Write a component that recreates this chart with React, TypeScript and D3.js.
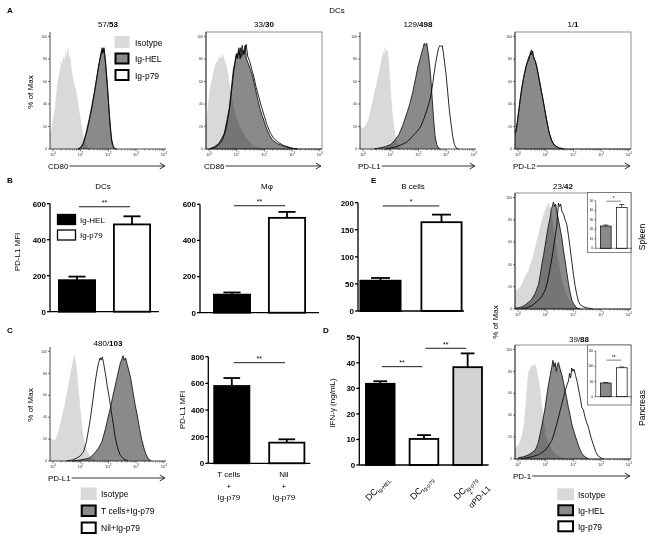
import React from "react";
import * as d3 from "d3";

type Pt = [number, number];

// ---------------- DATA ----------------
// Histograms: [log10 fluorescence, % of max]
const aTitleFirst = ["57/", "33/", "129/", "1/"];
const aTitleSecond = ["53", "30", "498", "1"];
const aMarkers = ["CD80", "CD86", "PD-L1", "PD-L2"];
const histLegend = ["Isotype", "Ig-HEL", "Ig-p79"];
const cLegend = ["Isotype", "T cells+Ig-p79", "Nil+Ig-p79"];
const histYTicks = [0, 20, 40, 60, 80, 100];
const histDecades = [0, 1, 2, 3, 4];

const cd80Iso: Pt[] = [[-0.11, 13], [-0.05, 18], [0.0, 25], [0.07, 36], [0.15, 55], [0.22, 66], [0.27, 72], [0.3, 78], [0.34, 74], [0.38, 82], [0.42, 76], [0.46, 86], [0.5, 80], [0.54, 90], [0.58, 78], [0.62, 82], [0.66, 70], [0.72, 62], [0.8, 54], [0.86, 48], [0.95, 32], [1.03, 20], [1.1, 10], [1.16, 5], [1.25, 1], [1.35, 0]];
const cd80Hel: Pt[] = [[0.9, 0], [1.0, 1], [1.1, 5], [1.2, 13], [1.3, 24], [1.4, 36], [1.5, 50], [1.58, 63], [1.65, 74], [1.72, 84], [1.76, 88], [1.8, 85], [1.83, 89], [1.86, 84], [1.9, 76], [1.95, 60], [2.0, 42], [2.05, 24], [2.1, 10], [2.15, 3], [2.22, 0.5], [2.3, 0]];
const cd80P79: Pt[] = [[0.9, 0], [1.0, 1.5], [1.1, 6], [1.2, 15], [1.3, 26], [1.4, 38], [1.5, 52], [1.58, 64], [1.66, 76], [1.72, 82], [1.77, 90], [1.8, 86], [1.84, 90], [1.88, 82], [1.92, 70], [1.97, 54], [2.02, 36], [2.07, 20], [2.12, 8], [2.18, 2], [2.25, 0]];

const cd86Iso: Pt[] = [[-0.11, 20], [-0.05, 34], [0.0, 46], [0.07, 58], [0.14, 65], [0.2, 72], [0.26, 77], [0.32, 78], [0.38, 82], [0.44, 80], [0.49, 84], [0.54, 80], [0.6, 76], [0.67, 68], [0.73, 58], [0.79, 50], [0.88, 38], [0.97, 29], [1.1, 20], [1.21, 15], [1.33, 10], [1.45, 6], [1.6, 3], [1.8, 1], [2.0, 0]];
const cd86Hel: Pt[] = [[0.0, 0], [0.2, 2], [0.35, 5], [0.45, 9], [0.55, 14], [0.65, 26], [0.73, 36], [0.8, 52], [0.88, 71], [0.94, 78], [0.98, 84], [1.02, 80], [1.06, 88], [1.1, 84], [1.14, 90], [1.18, 82], [1.22, 88], [1.26, 84], [1.3, 92], [1.35, 80], [1.42, 76], [1.5, 70], [1.57, 65], [1.65, 56], [1.75, 45], [1.85, 35], [1.93, 29], [2.05, 20], [2.17, 13], [2.29, 8], [2.45, 5], [2.65, 3], [2.85, 1.5], [3.0, 0.5], [3.2, 0]];
const cd86P79: Pt[] = [[0.05, 0], [0.25, 2], [0.4, 5], [0.5, 9], [0.6, 16], [0.68, 27], [0.76, 40], [0.83, 55], [0.9, 70], [0.96, 80], [1.0, 85], [1.04, 82], [1.08, 90], [1.12, 80], [1.16, 86], [1.2, 92], [1.25, 84], [1.3, 88], [1.34, 93], [1.4, 82], [1.47, 78], [1.55, 70], [1.62, 64], [1.7, 55], [1.8, 46], [1.9, 37], [2.0, 29], [2.1, 21], [2.22, 14], [2.35, 9], [2.5, 6], [2.7, 3], [2.9, 1.5], [3.05, 0.5], [3.2, 0]];

const pdl1Iso: Pt[] = [[-0.11, 20], [0.0, 18], [0.1, 21], [0.2, 26], [0.3, 37], [0.4, 48], [0.5, 59], [0.6, 70], [0.68, 80], [0.74, 86], [0.78, 84], [0.8, 90], [0.84, 86], [0.88, 88], [0.92, 78], [0.96, 65], [1.0, 50], [1.04, 36], [1.1, 22], [1.16, 12], [1.22, 6], [1.3, 2], [1.4, 0]];
const pdl1Hel: Pt[] = [[0.4, 0], [0.6, 1], [0.8, 2], [1.0, 4], [1.15, 8], [1.3, 13], [1.45, 22], [1.6, 33], [1.7, 41], [1.8, 51], [1.9, 63], [1.99, 74], [2.06, 80], [2.12, 86], [2.17, 90], [2.21, 94], [2.25, 92], [2.3, 94], [2.35, 86], [2.4, 76], [2.45, 62], [2.5, 44], [2.55, 26], [2.6, 12], [2.66, 4], [2.72, 1], [2.8, 0]];
const pdl1P79: Pt[] = [[0.8, 0], [1.0, 1], [1.2, 2], [1.4, 4], [1.57, 6], [1.7, 9], [1.85, 13], [2.0, 17], [2.1, 21], [2.2, 27], [2.3, 34], [2.42, 44], [2.5, 55], [2.56, 66], [2.62, 76], [2.68, 84], [2.73, 90], [2.78, 92], [2.82, 91], [2.86, 92], [2.9, 86], [2.95, 76], [3.0, 66], [3.06, 50], [3.12, 34], [3.18, 22], [3.24, 11], [3.3, 4], [3.36, 1], [3.45, 0]];

const pdl2Hel: Pt[] = [[-0.11, 13], [-0.06, 16], [-0.02, 24], [0.03, 34], [0.1, 48], [0.16, 57], [0.21, 64], [0.28, 72], [0.34, 78], [0.39, 82], [0.44, 84], [0.48, 88], [0.52, 84], [0.56, 82], [0.62, 78], [0.68, 73], [0.75, 64], [0.81, 56], [0.86, 49], [0.95, 37], [1.04, 25], [1.12, 15], [1.21, 8], [1.3, 4], [1.45, 1], [1.6, 0]];
const pdl2P79: Pt[] = [[-0.11, 15], [-0.06, 19], [-0.02, 26], [0.04, 37], [0.1, 49], [0.16, 58], [0.22, 66], [0.28, 73], [0.34, 77], [0.4, 80], [0.45, 86], [0.49, 84], [0.53, 87], [0.58, 80], [0.63, 78], [0.69, 71], [0.76, 62], [0.82, 54], [0.88, 47], [0.96, 36], [1.05, 23], [1.13, 14], [1.22, 7], [1.32, 3], [1.5, 1], [1.7, 0]];

// Panel C histogram
const cIso: Pt[] = [[-0.11, 21], [-0.05, 20], [0.03, 18], [0.1, 20], [0.2, 27], [0.3, 37], [0.4, 48], [0.5, 61], [0.58, 72], [0.65, 82], [0.7, 88], [0.74, 93], [0.77, 96], [0.8, 92], [0.84, 85], [0.88, 76], [0.92, 64], [0.96, 52], [1.02, 37], [1.08, 24], [1.15, 15], [1.23, 9], [1.32, 5], [1.42, 2], [1.55, 0]];
const cTcells: Pt[] = [[0.7, 0], [1.0, 1], [1.2, 2], [1.33, 3], [1.5, 7], [1.65, 12], [1.77, 18], [1.9, 30], [2.0, 41], [2.07, 48], [2.15, 58], [2.23, 67], [2.31, 76], [2.38, 84], [2.44, 90], [2.49, 93], [2.53, 96], [2.57, 92], [2.62, 94], [2.68, 88], [2.74, 82], [2.8, 76], [2.88, 64], [2.96, 52], [3.04, 42], [3.12, 30], [3.2, 20], [3.28, 12], [3.36, 6], [3.44, 2], [3.55, 0]];
const cNil: Pt[] = [[0.5, 0], [0.7, 1], [0.88, 3], [1.0, 5], [1.11, 9], [1.2, 17], [1.28, 28], [1.35, 39], [1.44, 56], [1.53, 73], [1.6, 84], [1.65, 90], [1.7, 94], [1.74, 92], [1.78, 95], [1.82, 90], [1.89, 80], [1.96, 68], [2.03, 58], [2.1, 46], [2.18, 33], [2.25, 21], [2.33, 12], [2.43, 5], [2.55, 2], [2.7, 0]];

// Panel E histograms (PD-1)
const eTitleFirst = ["23/", "39/"];
const eTitleSecond = ["42", "88"];
const eTissues = ["Spleen", "Pancreas"];
const spleenIso: Pt[] = [[-0.11, 16], [0.0, 18], [0.1, 20], [0.2, 25], [0.3, 31], [0.38, 34], [0.45, 40], [0.52, 45], [0.6, 53], [0.68, 61], [0.75, 68], [0.82, 75], [0.9, 82], [0.98, 88], [1.04, 92], [1.1, 95], [1.16, 90], [1.22, 82], [1.28, 72], [1.34, 61], [1.42, 47], [1.52, 34], [1.6, 24], [1.7, 16], [1.82, 9], [1.94, 5], [2.1, 2], [2.25, 0]];
const spleenHel: Pt[] = [[-0.11, 1], [0.0, 1], [0.15, 2], [0.28, 4], [0.38, 6], [0.5, 9], [0.62, 14], [0.74, 22], [0.8, 30], [0.86, 40], [0.92, 48], [0.98, 57], [1.05, 68], [1.1, 75], [1.16, 82], [1.2, 90], [1.24, 92], [1.28, 96], [1.32, 92], [1.36, 94], [1.4, 87], [1.46, 80], [1.52, 72], [1.58, 64], [1.64, 53], [1.7, 43], [1.76, 33], [1.82, 23], [1.88, 15], [1.94, 8], [2.02, 4], [2.12, 1], [2.25, 0]];
const spleenP79: Pt[] = [[0.1, 0], [0.3, 1], [0.5, 3], [0.7, 7], [0.85, 11], [0.98, 17], [1.06, 24], [1.14, 34], [1.22, 45], [1.3, 58], [1.36, 68], [1.4, 74], [1.43, 86], [1.46, 95], [1.5, 92], [1.54, 94], [1.58, 88], [1.64, 85], [1.7, 80], [1.76, 76], [1.82, 66], [1.88, 55], [1.94, 43], [2.0, 31], [2.06, 21], [2.12, 13], [2.18, 7], [2.24, 4], [2.35, 2], [2.5, 1], [2.7, 0]];
const pancIso: Pt[] = [[-0.11, 10], [0.0, 12], [0.08, 16], [0.14, 21], [0.2, 28], [0.25, 40], [0.29, 52], [0.33, 65], [0.36, 76], [0.4, 80], [0.45, 82], [0.5, 86], [0.55, 83], [0.6, 87], [0.64, 84], [0.68, 80], [0.74, 72], [0.8, 62], [0.85, 50], [0.89, 41], [0.94, 31], [0.98, 23], [1.06, 16], [1.16, 11], [1.26, 7], [1.36, 4], [1.5, 2], [1.65, 0]];
const pancHel: Pt[] = [[0.0, 1], [0.2, 2], [0.4, 4], [0.62, 8], [0.72, 14], [0.8, 23], [0.88, 33], [0.98, 47], [1.04, 58], [1.1, 68], [1.16, 76], [1.22, 84], [1.26, 90], [1.3, 84], [1.34, 88], [1.38, 80], [1.42, 86], [1.46, 88], [1.52, 82], [1.58, 77], [1.64, 70], [1.7, 62], [1.76, 55], [1.82, 47], [1.88, 40], [1.94, 32], [2.03, 24], [2.12, 17], [2.2, 11], [2.3, 5], [2.42, 2], [2.55, 0]];
const pancP79: Pt[] = [[0.1, 0], [0.3, 1], [0.5, 2], [0.75, 4], [0.98, 8], [1.1, 12], [1.22, 17], [1.3, 23], [1.4, 32], [1.5, 42], [1.58, 50], [1.64, 56], [1.7, 62], [1.76, 67], [1.82, 71], [1.86, 78], [1.9, 74], [1.94, 83], [1.98, 80], [2.02, 82], [2.08, 76], [2.14, 70], [2.2, 62], [2.26, 54], [2.3, 47], [2.36, 45], [2.42, 38], [2.48, 33], [2.54, 29], [2.62, 21], [2.72, 13], [2.8, 7], [2.88, 3], [3.0, 1], [3.1, 0]];

// Bar charts: means, SEM, significance level (data units)
const groupsHelP79 = ["Ig-HEL", "Ig-p79"];
const bTitles = ["DCs", "Mφ", "B cells"];
const bDcMean = [175, 485];
const bDcSem = [20, 45];
const bDcSig = [583];
const bMacMean = [100, 525];
const bMacSem = [12, 33];
const bMacSig = [592];
const bBMean = [56, 164];
const bBSem = [5, 14];
const bBSig = [194];
const b600Ticks = [0, 200, 400, 600];
const b200Ticks = [0, 50, 100, 150, 200];

const cBarLabels = [["T cells", "+", "Ig-p79"], ["Nil", "+", "Ig-p79"]];
const cBarMean = [580, 155];
const cBarSem = [60, 25];
const cBarSig = [755];
const cBarTicks = [0, 200, 400, 600, 800];

const dLabelMain = ["DC", "DC", "DC"];
const dLabelSub = ["Ig-HEL", "Ig-p79", "Ig-p79"];
const dLabelExtra = [[], [], ["+", "αPD-L1"]];
const dMean = [31.8, 10.2, 38.3];
const dSem = [1.0, 1.5, 5.4];
const dSig = [38.5, 45.7]; // 0-1, 1-2
const dTicks = [0, 10, 20, 30, 40, 50];

const eInsetMean = [[23.4, 43], [45, 95]];
const eInsetSem = [[1.0, 3.0], [1.5, 2.5]];
const eInsetSig = [49.5, 120];
const eInsetSigLabel = ["*", "**"];
const eInsetTicks = [[0, 10, 20, 30, 40, 50], [0, 50, 100, 150]];
const eInsetMax = [50, 150];

// ---------------- STYLE ----------------
const FF = "Arial, 'Liberation Sans', Helvetica, sans-serif";
const ISO_FILL = "#d9d9d9";
const HEL_FILL = "#8a8a8a";

let measureCtx: CanvasRenderingContext2D | null = null;
function textW(s: string, size: number, weight = "normal") {
  if (!measureCtx) measureCtx = document.createElement("canvas").getContext("2d");
  if (!measureCtx) return s.length * size * 0.55;
  measureCtx.font = `${weight} ${size}px ${FF}`;
  return measureCtx.measureText(s).width;
}

type Curves = { iso?: Pt[]; hel?: Pt[]; p79?: Pt[] };

function Hist(props: {
  x0: number; y0: number; y1: number; curves: Curves; box: boolean; marker: string;
  title: [string, string]; titleX?: number; titleY: number;
}) {
  const { x0, y0, y1, curves, box, marker, title } = props;
  const x1 = x0 + 116;
  const xs = d3.scaleLinear().domain([-0.11, 4.08]).range([x0, x1]);
  const ys = d3.scaleLinear().domain([0, 104]).range([y1, y0]);
  const area = d3.area<Pt>().x((d) => xs(d[0])).y0(ys(0)).y1((d) => ys(d[1]));
  const line = d3.line<Pt>().x((d) => xs(d[0])).y((d) => ys(d[1]));
  const minor: number[] = [];
  for (let k = 0; k < 4; k++) for (let m = 2; m <= 9; m++) minor.push(k + Math.log10(m));
  const lw = textW(marker, 8);
  const ay = y1 + 17;
  const aEnd = xs(4) + 1;
  const tx = props.titleX ?? (x0 + x1) / 2;
  return (
    <g>
      {curves.p79 && <path d={area(curves.p79) || ""} fill="#fff" />}
      {curves.iso && (
        <path d={area(curves.iso) || ""} fill={ISO_FILL} stroke="#cfcfcf" strokeWidth={0.4} style={{ mixBlendMode: "multiply" }} />
      )}
      {curves.hel && <path d={area(curves.hel) || ""} fill={HEL_FILL} style={{ mixBlendMode: "multiply" }} />}
      {curves.hel && <path d={line(curves.hel) || ""} fill="none" stroke="#111" strokeWidth={0.85} />}
      {curves.p79 && <path d={line(curves.p79) || ""} fill="none" stroke="#000" strokeWidth={0.85} />}
      {box && <rect x={x0} y={y0} width={x1 - x0} height={y1 - y0} fill="none" stroke="#444" strokeWidth={0.6} />}
      <line x1={x0} x2={x0} y1={y0} y2={y1} stroke="#000" strokeWidth={0.7} />
      <line x1={x0} x2={x1} y1={y1} y2={y1} stroke="#000" strokeWidth={0.7} />
      {histYTicks.map((t) => (
        <g key={"y" + t}>
          <line x1={x0 - 2} x2={x0} y1={ys(t)} y2={ys(t)} stroke="#000" strokeWidth={0.5} />
          <text x={x0 - 3} y={ys(t)} dy="0.35em" fontSize={3.5} textAnchor="end" fill="#333">{t}</text>
        </g>
      ))}
      {minor.map((m, i) => (
        <line key={"m" + i} x1={xs(m)} x2={xs(m)} y1={y1} y2={y1 + 1.5} stroke="#000" strokeWidth={0.4} />
      ))}
      {histDecades.map((k) => (
        <g key={"x" + k}>
          <line x1={xs(k)} x2={xs(k)} y1={y1} y2={y1 + 2.5} stroke="#000" strokeWidth={0.5} />
          <text x={xs(k)} y={y1 + 7} fontSize={4} textAnchor="middle" fill="#333">
            10<tspan dy={-1.6} fontSize={3}>{k}</tspan>
          </text>
        </g>
      ))}
      {marker && (
        <g>
          <text x={x0 - 2} y={ay + 3} fontSize={8}>{marker}</text>
          <line x1={x0 - 2 + lw + 1} x2={aEnd} y1={ay} y2={ay} stroke="#000" strokeWidth={0.8} />
          <polyline points={`${aEnd - 5},${ay - 3} ${aEnd},${ay} ${aEnd - 5},${ay + 3}`} fill="none" stroke="#000" strokeWidth={0.8} />
        </g>
      )}
      <text x={tx} y={props.titleY} fontSize={8} textAnchor="middle">
        {title[0]}
        <tspan fontWeight="bold">{title[1]}</tspan>
      </text>
    </g>
  );
}

function Bars(props: {
  axisX: number; firstLeft: number; bw: number; step: number; yTop: number; yBottom: number;
  max: number; ticks: number[]; means: number[]; sems: number[]; fills: string[];
  sigs: { a: number; b: number; v: number; label: string }[];
  tickSize: number; tickBold: boolean; strokeW: number; axisW: number; tickLen: number; sigSize: number;
  children?: (xs: d3.ScaleBand<number>, bw: number) => React.ReactNode;
}) {
  const { axisX, firstLeft, bw, step, yTop, yBottom, max, ticks, means, sems, fills, sigs } = props;
  const n = means.length;
  const pi = 1 - bw / step;
  const po = (firstLeft - axisX) / step;
  const rEnd = axisX + step * (n - pi + 2 * po);
  const xs = d3.scaleBand<number>().domain(d3.range(n)).range([axisX, rEnd]).paddingInner(pi).paddingOuter(po);
  const ys = d3.scaleLinear().domain([0, max]).range([yBottom, yTop]);
  const bwid = xs.bandwidth();
  const capW = bwid * 0.45;
  return (
    <g>
      {means.map((m, i) => {
        const x = xs(i) as number;
        const cx = x + bwid / 2;
        return (
          <g key={i}>
            <line x1={cx} x2={cx} y1={ys(m)} y2={ys(m + sems[i])} stroke="#000" strokeWidth={props.strokeW} />
            <line x1={cx - capW / 2} x2={cx + capW / 2} y1={ys(m + sems[i])} y2={ys(m + sems[i])} stroke="#000" strokeWidth={props.strokeW} />
            <rect x={x + props.strokeW / 2} y={ys(m)} width={bwid - props.strokeW} height={ys(0) - ys(m)} fill={fills[i]} stroke="#000" strokeWidth={props.strokeW} />
          </g>
        );
      })}
      <line x1={axisX} x2={axisX} y1={yTop} y2={yBottom} stroke="#000" strokeWidth={props.axisW} />
      <line x1={axisX} x2={rEnd} y1={yBottom} y2={yBottom} stroke="#000" strokeWidth={props.axisW} />
      {ticks.map((t) => (
        <g key={t}>
          <line x1={axisX - props.tickLen} x2={axisX} y1={ys(t)} y2={ys(t)} stroke="#000" strokeWidth={props.axisW} />
          <text x={axisX - props.tickLen - 1} y={ys(t)} dy="0.36em" fontSize={props.tickSize} fontWeight={props.tickBold ? "bold" : "normal"} textAnchor="end">
            {t}
          </text>
        </g>
      ))}
      {sigs.map((s, i) => {
        const xa = (xs(s.a) as number) + bwid * 0.55;
        const xb = (xs(s.b) as number) + bwid * 0.45;
        return (
          <g key={"s" + i}>
            <line x1={xa} x2={xb} y1={ys(s.v)} y2={ys(s.v)} stroke="#000" strokeWidth={props.sigSize > 5 ? 0.9 : 0.5} />
            <text x={(xa + xb) / 2} y={ys(s.v) - props.sigSize * 0.25} fontSize={props.sigSize} textAnchor="middle">{s.label}</text>
          </g>
        );
      })}
      {props.children && props.children(xs, bwid)}
    </g>
  );
}

function LegendBox({ x, y, kind, w, h }: { x: number; y: number; kind: number; w: number; h: number }) {
  if (kind === 0) return <rect x={x} y={y} width={w} height={h} fill={ISO_FILL} />;
  return <rect x={x + 1} y={y + 1} width={w - 2} height={h - 2} fill={kind === 1 ? HEL_FILL : "#fff"} stroke="#000" strokeWidth={2} />;
}

function VText({ x, y, text, size = 8 }: { x: number; y: number; text: string; size?: number }) {
  return (
    <text transform={`translate(${x},${y}) rotate(-90)`} textAnchor="middle" dy="0.35em" fontSize={size}>
      {text}
    </text>
  );
}

const histA = [
  { x0: 50, box: false, curves: { iso: cd80Iso, hel: cd80Hel, p79: cd80P79 } },
  { x0: 206, box: true, curves: { iso: cd86Iso, hel: cd86Hel, p79: cd86P79 } },
  { x0: 360, box: false, curves: { iso: pdl1Iso, hel: pdl1Hel, p79: pdl1P79 } },
  { x0: 515, box: true, curves: { hel: pdl2Hel, p79: pdl2P79 } },
];

export default function App() {
  const helP79Fills = ["#000", "#fff"];
  return (
    <svg width={652} height={541} style={{ position: "absolute", left: 0, top: 0, background: "#fff" }} fontFamily={FF}>
      <rect width={652} height={541} fill="#fff" />
      {/* Panel letters */}
      <text x={7} y={13} fontSize={8} fontWeight="bold">A</text>
      <text x={7} y={183} fontSize={8} fontWeight="bold">B</text>
      <text x={7} y={333} fontSize={8} fontWeight="bold">C</text>
      <text x={323} y={333} fontSize={8} fontWeight="bold">D</text>
      <text x={371} y={183} fontSize={8} fontWeight="bold">E</text>

      {/* Panel A */}
      <text x={337} y={13} fontSize={8} textAnchor="middle">DCs</text>
      {histA.map((h, i) => (
        <Hist key={i} x0={h.x0} y0={32} y1={149} curves={h.curves} box={h.box} marker={aMarkers[i]}
          title={[aTitleFirst[i], aTitleSecond[i]]} titleY={27} />
      ))}
      <VText x={30} y={92} text="% of Max" />
      {histLegend.map((l, i) => (
        <g key={l}>
          <LegendBox x={114.5} y={36 + i * 16.5} kind={i} w={15} h={12} />
          <text x={135} y={45.5 + i * 16.5} fontSize={8.5}>{l}</text>
        </g>
      ))}

      {/* Panel B */}
      {[
        { axisX: 50, firstLeft: 58, bw: 38, step: 55, yTop: 203.7, yBottom: 311.7, max: 600, ticks: b600Ticks, means: bDcMean, sems: bDcSem, sig: bDcSig, label: "**", tx: 103 },
        { axisX: 200, firstLeft: 213, bw: 38, step: 55, yTop: 204.3, yBottom: 312.7, max: 600, ticks: b600Ticks, means: bMacMean, sems: bMacSem, sig: bMacSig, label: "**", tx: 267 },
        { axisX: 358, firstLeft: 359.5, bw: 42, step: 61, yTop: 202.7, yBottom: 311, max: 200, ticks: b200Ticks, means: bBMean, sems: bBSem, sig: bBSig, label: "*", tx: 413 },
      ].map((c, i) => (
        <g key={"b" + i}>
          <Bars axisX={c.axisX} firstLeft={c.firstLeft} bw={c.bw} step={c.step} yTop={c.yTop} yBottom={c.yBottom}
            max={c.max} ticks={c.ticks} means={c.means} sems={c.sems} fills={helP79Fills}
            sigs={[{ a: 0, b: 1, v: c.sig[0], label: c.label }]} tickSize={8} tickBold strokeW={1.8} axisW={1.3} tickLen={3} sigSize={7} />
          <text x={c.tx} y={189} fontSize={8} textAnchor="middle">{bTitles[i]}</text>
        </g>
      ))}
      <VText x={17} y={252} text="PD-L1 MFI" />
      {groupsHelP79.map((g, i) => (
        <g key={g}>
          <rect x={57.5} y={214.5 + i * 15.5} width={18} height={10} fill={i === 0 ? "#000" : "#fff"} stroke="#000" strokeWidth={1.3} />
          <text x={80} y={222.5 + i * 15.5} fontSize={8}>{g}</text>
        </g>
      ))}

      {/* Panel C */}
      <Hist x0={50} y0={347} y1={461} curves={{ iso: cIso, hel: cTcells, p79: cNil }} box={false} marker="PD-L1"
        title={["480/", "103"]} titleY={346} titleX={108} />
      <VText x={30} y={405} text="% of Max" />
      {cLegend.map((l, i) => (
        <g key={l}>
          <LegendBox x={80.7} y={487.5 + i * 17} kind={i} w={16} h={12.5} />
          <text x={101} y={496.5 + i * 17} fontSize={8.5}>{l}</text>
        </g>
      ))}
      <Bars axisX={208.3} firstLeft={213.3} bw={37} step={55} yTop={356.7} yBottom={463.3} max={800} ticks={cBarTicks}
        means={cBarMean} sems={cBarSem} fills={["#000", "#fff"]} sigs={[{ a: 0, b: 1, v: cBarSig[0], label: "**" }]}
        tickSize={8} tickBold strokeW={1.8} axisW={1.3} tickLen={3} sigSize={7}>
        {(xs, bwid) =>
          cBarLabels.map((lab, i) => (
            <text key={i} x={(xs(i) as number) + bwid / 2 - 3} y={477} fontSize={8} textAnchor="middle">
              {lab.map((s, j) => (
                <tspan key={j} x={(xs(i) as number) + bwid / 2 - 3} dy={j === 0 ? 0 : j === 1 ? 12 : 11}>{s}</tspan>
              ))}
            </text>
          ))
        }
      </Bars>
      <VText x={182} y={410} text="PD-L1 MFI" />

      {/* Panel D */}
      <Bars axisX={359.3} firstLeft={365} bw={30.5} step={43.7} yTop={337.3} yBottom={465} max={50} ticks={dTicks}
        means={dMean} sems={dSem} fills={["#000", "#fff", "#d3d3d3"]}
        sigs={[{ a: 0, b: 1, v: dSig[0], label: "**" }, { a: 1, b: 2, v: dSig[1], label: "**" }]}
        tickSize={8} tickBold strokeW={1.8} axisW={1.3} tickLen={3} sigSize={7}>
        {(xs, bwid) =>
          dLabelMain.map((m, i) => {
            const cx = (xs(i) as number) + bwid / 2;
            return (
              <text key={i} transform={`translate(${cx + 10},${480}) rotate(-45)`} textAnchor="end" fontSize={9}>
                <tspan>{m}</tspan>
                <tspan fontSize={5.5} dy={2}>{dLabelSub[i]}</tspan>
                {dLabelExtra[i].map((e, j) => (
                  <tspan key={j} x={j === 0 ? -12 : 3} y={j === 0 ? 7 : 16} fontSize={j === 0 ? 6 : 8}>{e}</tspan>
                ))}
              </text>
            );
          })
        }
      </Bars>
      <VText x={332} y={403} text="IFN-γ (ng/mL)" />

      {/* Panel E */}
      {[
        { y0: 193, y1: 309, curves: { iso: spleenIso, hel: spleenHel, p79: spleenP79 }, tx: 563, ty: 189, inTop: 192.5, inBot: 252.7, yTop: 200.7, yBot: 248.3, tisY: 237 },
        { y0: 345, y1: 459, curves: { iso: pancIso, hel: pancHel, p79: pancP79 }, tx: 579, ty: 342, inTop: 345, inBot: 405, yTop: 351, yBot: 396.7, tisY: 408 },
      ].map((e, i) => (
        <g key={"e" + i}>
          <Hist x0={515} y0={e.y0} y1={e.y1} curves={e.curves} box marker={i === 1 ? "PD-1" : ""}
            title={[eTitleFirst[i], eTitleSecond[i]]} titleX={e.tx} titleY={e.ty} />
          <rect x={587.7} y={e.inTop} width={631 - 587.7} height={e.inBot - e.inTop} fill="#fff" stroke="#333" strokeWidth={0.6} />
          <Bars axisX={595.7} firstLeft={600} bw={11.5} step={16} yTop={e.yTop} yBottom={e.yBot} max={eInsetMax[i]}
            ticks={eInsetTicks[i]} means={eInsetMean[i]} sems={eInsetSem[i]} fills={[HEL_FILL, "#fff"]}
            sigs={[{ a: 0, b: 1, v: eInsetSig[i], label: eInsetSigLabel[i] }]}
            tickSize={3} tickBold={false} strokeW={0.7} axisW={0.5} tickLen={1.5} sigSize={4.5} />
          <VText x={642} y={e.tisY} text={eTissues[i]} size={8.5} />
        </g>
      ))}
      <VText x={495} y={322} text="% of Max" />
      {histLegend.map((l, i) => (
        <g key={"el" + l}>
          <LegendBox x={557.3} y={488.3 + i * 16} kind={i} w={16.7} h={12} />
          <text x={578} y={497.5 + i * 16} fontSize={8.5}>{l}</text>
        </g>
      ))}
    </svg>
  );
}
